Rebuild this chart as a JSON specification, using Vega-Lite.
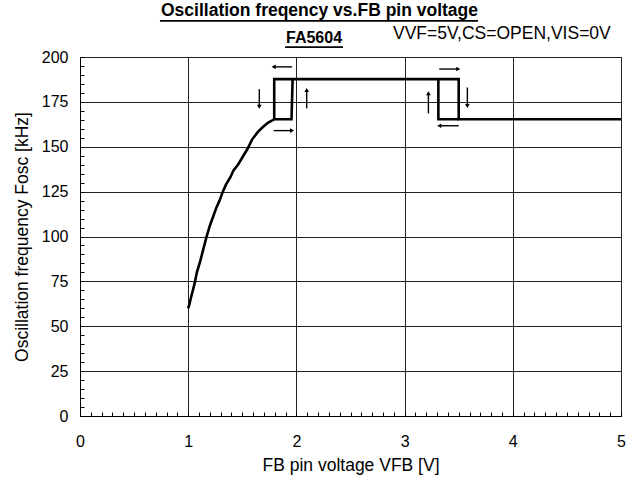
{
  "$schema": "https://vega.github.io/schema/vega-lite/v6.json",
  "autosize": "none",
  "width": 541,
  "height": 359,
  "padding": {"left": 80, "top": 57, "right": 22, "bottom": 66},
  "background": "white",
  "title": {"text": "Oscillation freqency vs.FB pin voltage", "frame": "group", "font": "Liberation Sans", "fontSize": 17.5, "fontWeight": "bold", "color": "black", "anchor": "middle", "baseline": "alphabetic", "dx": -31, "offset": -13.5},
  "datasets": {
    "curve": [
      {"s": "main", "i": 1, "v": 1.0, "f": 60},
      {"s": "main", "i": 2, "v": 1.01, "f": 62},
      {"s": "main", "i": 3, "v": 1.03, "f": 67},
      {"s": "main", "i": 4, "v": 1.06, "f": 74},
      {"s": "main", "i": 5, "v": 1.08, "f": 80},
      {"s": "main", "i": 6, "v": 1.11, "f": 86},
      {"s": "main", "i": 7, "v": 1.14, "f": 93},
      {"s": "main", "i": 8, "v": 1.17, "f": 100},
      {"s": "main", "i": 9, "v": 1.2, "f": 106},
      {"s": "main", "i": 10, "v": 1.23, "f": 111},
      {"s": "main", "i": 11, "v": 1.26, "f": 116},
      {"s": "main", "i": 12, "v": 1.29, "f": 120},
      {"s": "main", "i": 13, "v": 1.32, "f": 125},
      {"s": "main", "i": 14, "v": 1.35, "f": 129},
      {"s": "main", "i": 15, "v": 1.39, "f": 133},
      {"s": "main", "i": 16, "v": 1.42, "f": 137},
      {"s": "main", "i": 17, "v": 1.46, "f": 140},
      {"s": "main", "i": 18, "v": 1.5, "f": 144},
      {"s": "main", "i": 19, "v": 1.55, "f": 149},
      {"s": "main", "i": 20, "v": 1.59, "f": 154},
      {"s": "main", "i": 21, "v": 1.64, "f": 158},
      {"s": "main", "i": 22, "v": 1.69, "f": 161},
      {"s": "main", "i": 23, "v": 1.74, "f": 163.5},
      {"s": "main", "i": 24, "v": 1.795, "f": 165.3},
      {"s": "main", "i": 25, "v": 1.795, "f": 187.7},
      {"s": "main", "i": 26, "v": 3.5, "f": 187.7},
      {"s": "main", "i": 27, "v": 3.5, "f": 165.3},
      {"s": "main", "i": 28, "v": 5.0, "f": 165.3},
      {"s": "box1", "i": 1, "v": 1.795, "f": 165.3},
      {"s": "box1", "i": 2, "v": 1.955, "f": 165.3},
      {"s": "box1", "i": 3, "v": 1.965, "f": 187.7},
      {"s": "box2", "i": 1, "v": 3.312, "f": 187.7},
      {"s": "box2", "i": 2, "v": 3.312, "f": 165.3},
      {"s": "box2", "i": 3, "v": 3.5, "f": 165.3}
    ],
    "arrows": [
      {"v": 1.79, "f": 194.5, "v2": 1.96, "f2": 194.5, "head": "triangle-left"},
      {"v": 1.657, "f": 172.3, "v2": 1.657, "f2": 182, "head": "triangle-down"},
      {"v": 2.095, "f": 181.6, "v2": 2.095, "f2": 171.4, "head": "triangle-up"},
      {"v": 1.96, "f": 159, "v2": 1.79, "f2": 159, "head": "triangle-right"},
      {"v": 3.496, "f": 193.3, "v2": 3.32, "f2": 193.3, "head": "triangle-right"},
      {"v": 3.22, "f": 179.8, "v2": 3.22, "f2": 168.6, "head": "triangle-up"},
      {"v": 3.58, "f": 172.7, "v2": 3.58, "f2": 183, "head": "triangle-down"},
      {"v": 3.32, "f": 161.7, "v2": 3.5, "f2": 161.7, "head": "triangle-left"}
    ],
    "device": [
      {"v": 2.163, "f": 207.6, "t": "FA5604"}
    ],
    "conditions": [
      {"v": 2.893, "f": 210.0, "t": "VVF=5V,CS=OPEN,VIS=0V"}
    ],
    "underlines": [
      {"v": 0.739, "v2": 3.678, "f": 220.1},
      {"v": 1.895, "v2": 2.431, "f": 205.5}
    ]
  },
  "encoding": {
    "x": {
      "field": "v", "type": "quantitative",
      "scale": {"domain": [0, 5], "nice": false, "zero": false},
      "axis": {
        "title": "FB pin voltage VFB [V]",
        "values": [0,0.1,0.2,0.3,0.4,0.5,0.6,0.7,0.8,0.9,1,1.1,1.2,1.3,1.4,1.5,1.6,1.7,1.8,1.9,2,2.1,2.2,2.3,2.4,2.5,2.6,2.7,2.8,2.9,3,3.1,3.2,3.3,3.4,3.5,3.6,3.7,3.8,3.9,4,4.1,4.2,4.3,4.4,4.5,4.6,4.7,4.8,4.9,5],
        "labelExpr": "abs(datum.value - round(datum.value)) < 0.001 ? format(datum.value, 'd') : ''",
        "tickSize": -4,
        "labelPadding": 21,
        "labelOverlap": false,
        "labelFlush": false,
        "grid": true,
        "gridColor": "#222",
        "gridOpacity": {"condition": {"test": "abs(datum.value - round(datum.value)) < 0.001", "value": 1}, "value": 0},
        "titlePadding": 7
      }
    },
    "y": {
      "field": "f", "type": "quantitative",
      "scale": {"domain": [0, 200], "nice": false},
      "axis": {
        "title": "Oscillation frequency Fosc [kHz]",
        "values": [0,5,10,15,20,25,30,35,40,45,50,55,60,65,70,75,80,85,90,95,100,105,110,115,120,125,130,135,140,145,150,155,160,165,170,175,180,185,190,195,200],
        "labelExpr": "datum.value % 25 == 0 ? format(datum.value, 'd') : ''",
        "tickSize": -4,
        "labelPadding": 16,
        "labelOverlap": false,
        "labelFlush": false,
        "grid": true,
        "gridColor": "#222",
        "gridOpacity": {"condition": {"test": "datum.value % 25 == 0", "value": 1}, "value": 0},
        "titlePadding": 10
      }
    }
  },
  "layer": [
    {
      "data": {"name": "curve"},
      "mark": {"type": "line", "color": "black", "strokeWidth": 2.6, "strokeJoin": "miter", "clip": false},
      "encoding": {
        "detail": {"field": "s"},
        "order": {"field": "i", "type": "quantitative"}
      }
    },
    {
      "data": {"name": "arrows"},
      "mark": {"type": "rule", "color": "black", "strokeWidth": 1.4},
      "encoding": {
        "x2": {"field": "v2"},
        "y2": {"field": "f2"}
      }
    },
    {
      "data": {"name": "arrows"},
      "mark": {"type": "point", "filled": true, "color": "black", "opacity": 1, "size": 22},
      "encoding": {
        "shape": {"field": "head", "type": "nominal", "scale": null}
      }
    },
    {
      "data": {"name": "device"},
      "mark": {"type": "text", "font": "Liberation Sans", "fontSize": 16, "fontWeight": "bold", "color": "black", "baseline": "alphabetic", "align": "center"},
      "encoding": {
        "text": {"field": "t"}
      }
    },
    {
      "data": {"name": "conditions"},
      "mark": {"type": "text", "font": "Liberation Sans", "fontSize": 17.5, "color": "black", "baseline": "alphabetic", "align": "left"},
      "encoding": {
        "text": {"field": "t"}
      }
    },
    {
      "data": {"name": "underlines"},
      "mark": {"type": "rule", "color": "black", "strokeWidth": 1.8},
      "encoding": {
        "x2": {"field": "v2"}
      }
    }
  ],
  "config": {
    "view": {"stroke": "black", "strokeWidth": 1},
    "axis": {
      "labelFont": "Liberation Sans", "labelFontSize": 16, "labelColor": "black",
      "titleFont": "Liberation Sans", "titleFontSize": 17.5, "titleFontWeight": "normal", "titleColor": "black",
      "domainColor": "black", "domainWidth": 1, "tickColor": "black", "tickWidth": 1
    }
  }
}
